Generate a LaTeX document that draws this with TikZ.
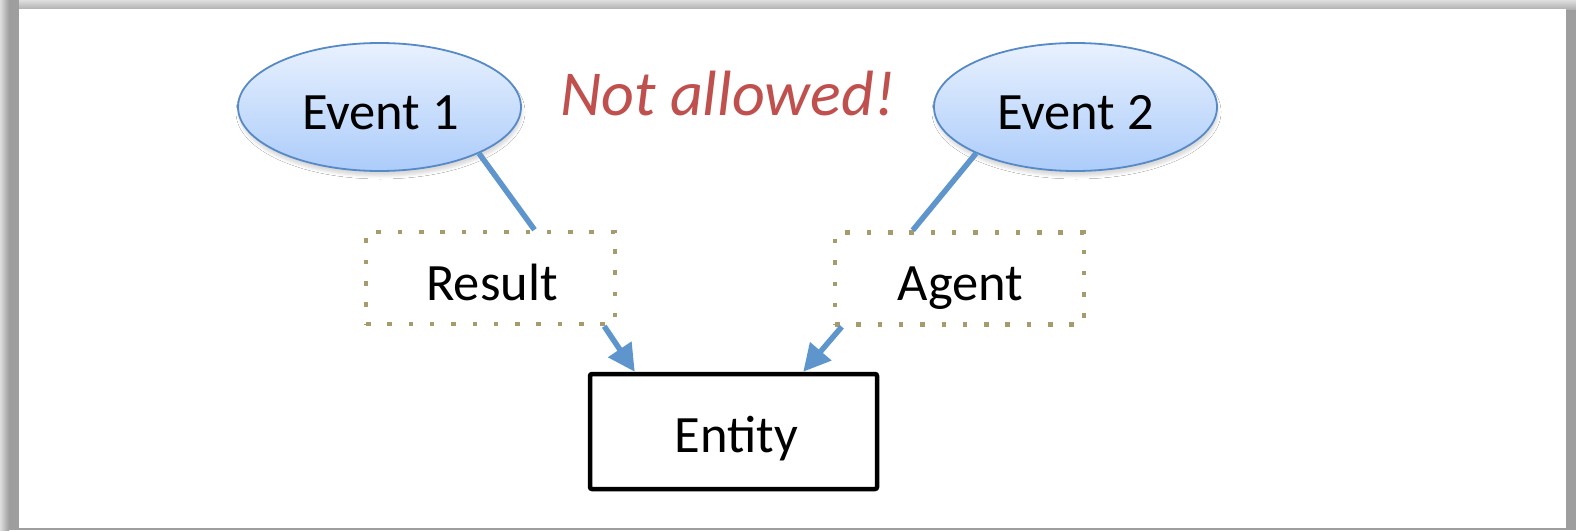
\documentclass[tikz,border=0pt]{standalone}
\usepackage{fontspec}
\setmainfont{Carlito}
\usetikzlibrary{arrows.meta,shapes.geometric,shadows.blur}

\definecolor{framegray}{RGB}{158,158,158}
\definecolor{framelight}{RGB}{222,222,222}
\definecolor{evborder}{RGB}{86,138,198}
\definecolor{evtop}{RGB}{232,241,254}
\definecolor{evbot}{RGB}{172,204,250}
\definecolor{linkblue}{RGB}{94,149,204}
\definecolor{dotcol}{RGB}{166,155,108}
\definecolor{warnred}{RGB}{192,80,77}

\tikzset{
  event/.style={ellipse, draw=evborder, line width=1.8pt,
    top color=evtop, bottom color=evbot,
    minimum width=283pt, minimum height=128pt, inner sep=0pt,
    blur shadow={shadow xshift=1pt, shadow yshift=-5pt,
      shadow blur radius=3pt, shadow opacity=15}},
  rolebox/.style={draw=dotcol, line width=4.5pt, line cap=butt,
    dash pattern=on 4.5pt off 16.8pt,
    minimum width=249pt, minimum height=92pt, inner sep=0pt},
  entitybox/.style={draw=black, line width=4.5pt, rounded corners=2pt,
    minimum width=287pt, minimum height=115pt, inner sep=0pt},
  lbl/.style={font=\fontsize{52.5}{62}\selectfont, inner sep=0pt, anchor=base},
  link/.style={draw=linkblue, line width=5.5pt},
  arrowlink/.style={link, -{Triangle[width=27pt,length=27pt]}},
}

\begin{document}
\begin{tikzpicture}[x=1pt,y=-1pt]
\useasboundingbox (0,0) rectangle (1576,530);

% page frame with its shadow bands
\fill[framegray] (0,0) rectangle (1576,530);
\shade[left color=framelight, right color=framegray] (0,0) rectangle (9,530);
\fill[framegray] (9,0) rectangle (19,530);
\shade[top color=framelight, bottom color=framegray!80!white] (19,0) rectangle (1576,9);
\fill[white] (19,9) rectangle (1566,528);

% events
\node[event] (e1) at (379.5,107) {};
\node[lbl] (e1t) at (380.5,129) {Event 1};
\node[event] (e2) at (1075.5,107) {};
\node[lbl] (e2t) at (1075.5,129) {Event 2};

% warning
\node[font=\fontsize{64}{74}\selectfont\itshape, text=warnred, inner sep=0pt, anchor=base]
  (warn) at (727.5,115) {Not allowed!};

% roles
\node[rolebox] (res) at (490.5,278) {};
\node[lbl] (rest) at (492,300) {Result};
\node[rolebox] (ag) at (959.5,278.5) {};
\node[lbl] (agt) at (960.5,300) {Agent};

% entity
\node[entitybox] (ent) at (733.5,431.5) {};
\node[lbl] (entt) at (736.5,452) {Entity};

% connectors
\draw[link] (e1.-25) -- ([xshift=44pt]res.north);
\draw[link] (e2.205) -- ([xshift=80pt]ag.north west);
\draw[arrowlink] ([xshift=-13pt]res.south east) -- ([xshift=47pt]ent.north west);
\draw[arrowlink] ([xshift=9pt]ag.south west) -- ([xshift=-76pt]ent.north east);
\end{tikzpicture}
\end{document}
